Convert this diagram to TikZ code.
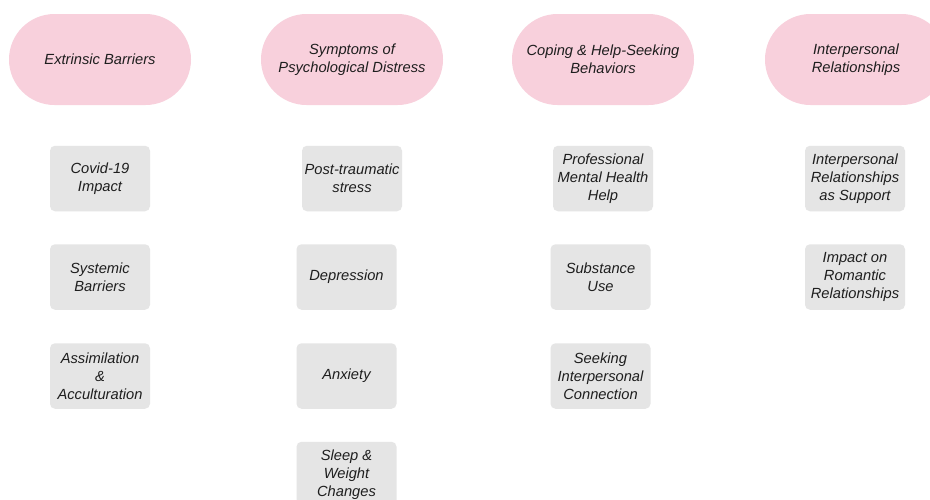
\documentclass[tikz,border=0pt]{standalone}
\usepackage{fontspec}
\setmainfont{Liberation Sans}
\definecolor{pinkfill}{HTML}{F8D0DC}
\definecolor{grayfill}{HTML}{E5E5E5}
\definecolor{txt}{HTML}{1E1E1E}
\tikzset{
  pill/.style={fill=pinkfill, draw=none, rounded corners=45.5pt, minimum width=182pt, minimum height=91pt, inner sep=0pt, align=center, text=txt, font=\fontsize{14.7}{18}\selectfont\itshape},
  item/.style={fill=grayfill, draw=none, rounded corners=5pt, minimum width=100pt, minimum height=65.5pt, inner sep=0pt, align=center, text=txt, font=\fontsize{14.7}{18}\selectfont\itshape}
}
\begin{document}
\begin{tikzpicture}[x=1pt,y=-1pt]
\clip (0,0) rectangle (930,499);
\fill[white] (0,0) rectangle (930,499);
% header pills
\node[pill] (h1) at (100,59.5) {Extrinsic Barriers};
\node[pill] (h2) at (352,59.5) {Symptoms of\\Psychological Distress};
\node[pill] (h3) at (603,59.5) {Coping \& Help-Seeking\\Behaviors};
\node[pill] (h4) at (856,59.5) {Interpersonal\\Relationships};
% column 1
\node[item] (a1) at (100,178.5) {Covid-19\\Impact};
\node[item] (a2) at (100,277) {Systemic\\Barriers};
\node[item] (a3) at (100,376) {Assimilation\\\&\\Acculturation};
% column 2
\node[item] (b1) at (352,178.5) {Post-traumatic\\stress};
\node[item] (b2) at (346.5,277) {Depression};
\node[item] (b3) at (346.5,376) {Anxiety};
\node[item] (b4) at (346.5,474.5) {Sleep \&\\Weight\\Changes};
% column 3
\node[item] (c1) at (603,178.5) {Professional\\Mental Health\\Help};
\node[item] (c2) at (600.5,277) {Substance\\Use};
\node[item] (c3) at (600.5,376) {Seeking\\Interpersonal\\Connection};
% column 4
\node[item] (d1) at (855,178.5) {Interpersonal\\Relationships\\as Support};
\node[item] (d2) at (855,277) {Impact on\\Romantic\\Relationships};
\end{tikzpicture}
\end{document}
